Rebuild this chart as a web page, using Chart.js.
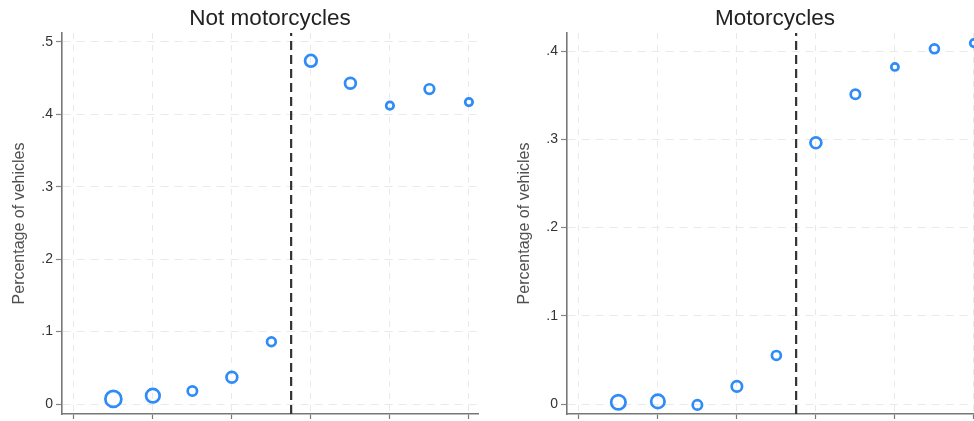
<!DOCTYPE html>
<html>
<head>
<meta charset="utf-8">
<script src="https://cdn.jsdelivr.net/npm/chart.js@4"></script>
<style>
  html, body { margin: 0; padding: 0; background: #fff; overflow: hidden; width: 974px; height: 421px; }
  .panel { position: absolute; top: 0; width: 490px; height: 421px; }
</style>
</head>
<body>
<div class="panel" style="left:0"><canvas id="notMoto"></canvas></div>
<div class="panel" style="left:505px"><canvas id="moto"></canvas></div>
<script>
// Datos
const bins = [-5, -4, -3, -2, -1, 0, 1, 2, 3, 4];
const cutoff = -0.5;
const xTicks = [-6, -4, -2, 0, 2, 4];

const shareNotMoto = [0.007, 0.0115, 0.018, 0.037, 0.086, 0.474, 0.443, 0.412, 0.435, 0.417];
const shareMoto = [0.002, 0.003, -0.001, 0.020, 0.055, 0.296, 0.351, 0.382, 0.4025, 0.409];

// peso relativo de cada celda (tamano del marcador)
const weightNotMoto = [64, 46, 22, 29, 19, 34, 29, 14, 23, 14];
const weightMoto = [52, 45, 22, 27, 20, 30, 22, 13, 20, 14];

const yTicksNotMoto = [0, 0.1, 0.2, 0.3, 0.4, 0.5];
const yTicksMoto = [0, 0.1, 0.2, 0.3, 0.4];

const font = "'Liberation Sans', Arial, sans-serif";
const blue = '#2f8cf7';

function fmt(v) {
    if (Math.abs(v) < 1e-9) return '0';
    return v.toFixed(1).replace(/^0/, '');
}

function makePanel(id, title, values, weights, yTicks, yMin, yMax) {
    const ctx = document.getElementById(id).getContext('2d');
    return new Chart(ctx, {
        type: 'scatter',
        data: {
            datasets: [{
                data: bins.map((b, i) => ({x: b, y: values[i]})),
                borderColor: blue,
                backgroundColor: 'rgba(0,0,0,0)',
                borderWidth: 2.7,
                pointRadius: weights.map(w => Math.sqrt(w)),
                order: 1
            }, {
                type: 'line',
                data: [{x: cutoff, y: yMin}, {x: cutoff, y: yMax}],
                borderColor: '#333',
                borderWidth: 2.2,
                borderDash: [9, 5],
                pointRadius: 0,
                fill: false,
                order: 2
            }]
        },
        options: {
            responsive: true,
            maintainAspectRatio: false,
            animation: false,
            layout: { autoPadding: false, padding: { left: 0, right: 12, top: 0, bottom: 2 } },
            plugins: {
                legend: { display: false },
                tooltip: { enabled: false },
                title: {
                    display: true,
                    fullSize: false,
                    text: title,
                    color: '#222',
                    font: { family: font, size: 22.5, weight: 'normal' },
                    padding: { top: 5, bottom: 1 }
                }
            },
            scales: {
                x: {
                    type: 'linear',
                    min: -6.3,
                    max: 4.23,
                    afterBuildTicks: s => { s.ticks = xTicks.map(v => ({value: v})); },
                    afterFit: s => { s.paddingLeft = 0; s.paddingRight = 0; },
                    ticks: { display: false },
                    grid: {
                        color: '#e9e9e9',
                        lineWidth: 1,
                        tickLength: 5,
                        tickColor: '#777',
                        tickWidth: 1.2,
                        tickBorderDash: []
                    },
                    border: { color: '#777', width: 1.6, dash: [6, 6] }
                },
                y: {
                    type: 'linear',
                    min: yMin,
                    max: yMax,
                    afterBuildTicks: s => { s.ticks = yTicks.map(v => ({value: v})); },
                    afterFit: s => { s.width = 62; s.paddingTop = 0; s.paddingBottom = 0; },
                    ticks: {
                        color: '#333',
                        padding: 3,
                        font: { family: font, size: 14 },
                        callback: v => fmt(v)
                    },
                    grid: {
                        color: '#e9e9e9',
                        lineWidth: 1,
                        tickLength: 6,
                        tickColor: '#888',
                        tickWidth: 1.2,
                        tickBorderDash: []
                    },
                    border: { color: '#777', width: 1.6, dash: [8, 6] },
                    title: {
                        display: true,
                        text: 'Percentage of vehicles',
                        color: '#505050',
                        font: { family: font, size: 16 },
                        padding: { top: 9.5, bottom: 0 }
                    }
                }
            }
        }
    });
}

makePanel('notMoto', 'Not motorcycles', shareNotMoto, weightNotMoto, yTicksNotMoto, -0.0138, 0.5124);
makePanel('moto', 'Motorcycles', shareMoto, weightMoto, yTicksMoto, -0.0113, 0.4204);
</script>
</body>
</html>
